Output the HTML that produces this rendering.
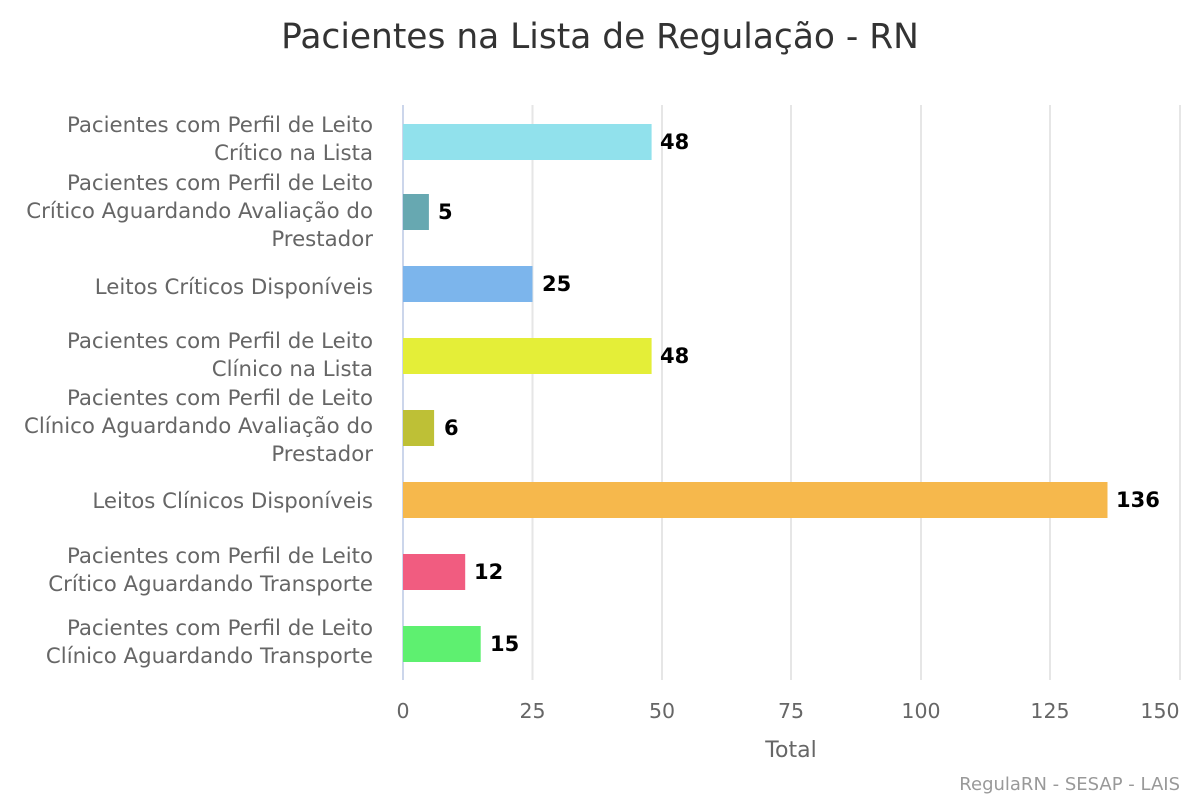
<!DOCTYPE html>
<html><head><meta charset="utf-8"><style>body{margin:0;background:#fff}</style></head><body>
<svg width="1200" height="800" xmlns="http://www.w3.org/2000/svg" font-family="DejaVu Sans, sans-serif">
<rect width="1200" height="800" fill="#fff"/>
<text x="600" y="48" text-anchor="middle" font-size="34.4" fill="#333">Pacientes na Lista de Regulação - RN</text>
<g stroke="#e6e6e6" stroke-width="2">
<line x1="532.5" y1="105" x2="532.5" y2="680"/><line x1="662" y1="105" x2="662" y2="680"/>
<line x1="791" y1="105" x2="791" y2="680"/><line x1="921" y1="105" x2="921" y2="680"/>
<line x1="1050" y1="105" x2="1050" y2="680"/><line x1="1180" y1="105" x2="1180" y2="680"/>
</g>
<line x1="403" y1="105" x2="403" y2="680" stroke="#ccd6eb" stroke-width="2"/>
<g>
<rect x="403" y="124" width="248.6" height="36" fill="#91e1ec"/>
<rect x="403" y="194" width="25.9" height="36" fill="#67a8b1"/>
<rect x="403" y="266" width="129.5" height="36" fill="#7cb5ec"/>
<rect x="403" y="338" width="248.6" height="36" fill="#e4ee38"/>
<rect x="403" y="410" width="31.1" height="36" fill="#bec036"/>
<rect x="403" y="482" width="704.5" height="36" fill="#f6b84c"/>
<rect x="403" y="554" width="62.2" height="36" fill="#f15c80"/>
<rect x="403" y="626" width="77.7" height="36" fill="#5ef070"/>
</g>
<g font-size="21" font-weight="bold" fill="#000">
<text x="660" y="149">48</text><text x="438" y="219">5</text><text x="542" y="291">25</text>
<text x="660" y="363">48</text><text x="444" y="435">6</text><text x="1116" y="507">136</text>
<text x="474" y="579">12</text><text x="490" y="651">15</text>
</g>
<g font-size="21.3" fill="#666" text-anchor="end">
<text x="373" y="132">Pacientes com Perfil de Leito</text><text x="373" y="160">Crítico na Lista</text>
<text x="373" y="190">Pacientes com Perfil de Leito</text><text x="373" y="218">Crítico Aguardando Avaliação do</text><text x="373" y="246">Prestador</text>
<text x="373" y="294">Leitos Críticos Disponíveis</text>
<text x="373" y="348">Pacientes com Perfil de Leito</text><text x="373" y="376">Clínico na Lista</text>
<text x="373" y="405">Pacientes com Perfil de Leito</text><text x="373" y="433">Clínico Aguardando Avaliação do</text><text x="373" y="461">Prestador</text>
<text x="373" y="508">Leitos Clínicos Disponíveis</text>
<text x="373" y="563">Pacientes com Perfil de Leito</text><text x="373" y="591">Crítico Aguardando Transporte</text>
<text x="373" y="635">Pacientes com Perfil de Leito</text><text x="373" y="663">Clínico Aguardando Transporte</text>
</g>
<g font-size="20.5" fill="#666" text-anchor="middle">
<text x="403" y="718">0</text><text x="532.5" y="718">25</text><text x="662" y="718">50</text>
<text x="791" y="718">75</text><text x="921" y="718">100</text><text x="1050" y="718">125</text><text x="1160" y="718">150</text>
<text x="791" y="757" font-size="22">Total</text>
</g>
<text x="1180" y="790" text-anchor="end" font-size="18" fill="#999">RegulaRN - SESAP - LAIS</text>
</svg>
</body></html>
